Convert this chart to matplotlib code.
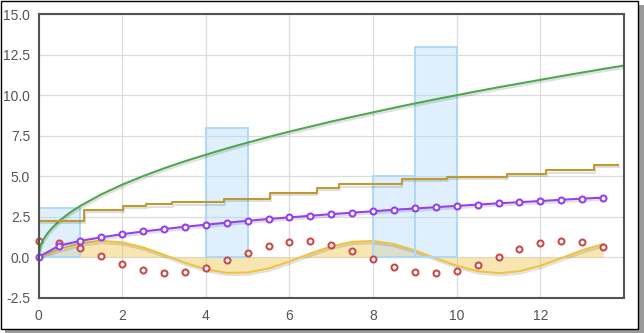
""" flot style series types chart """

import numpy as np
import matplotlib
matplotlib.use("Agg")
import matplotlib.pyplot as plt
import matplotlib.patheffects as pe
from matplotlib.patches import Rectangle

# --- data ---
half_steps = np.arange(0, 14, 0.5)  # 0, 0.5, ... 13.5

sin_vals = [0.0, 0.48, 0.84, 1.0, 0.91, 0.60, 0.14, -0.35, -0.76, -0.98,
            -0.96, -0.71, -0.28, 0.22, 0.66, 0.94, 0.99, 0.80, 0.41, -0.08,
            -0.54, -0.88, -1.0, -0.88, -0.54, -0.07, 0.42, 0.80]

bar_x = [0, 4, 8, 9]
bar_h = [3, 8, 5, 13]

cos_vals = [1.0, 0.88, 0.54, 0.07, -0.42, -0.80, -0.99, -0.94, -0.65, -0.21,
            0.28, 0.71, 0.96, 0.98, 0.75, 0.35, -0.15, -0.60, -0.91, -1.0,
            -0.84, -0.48, 0.0, 0.48, 0.84, 1.0, 0.91, 0.60]

green_x = [0, 0.05, 0.1, 0.2, 0.3, 0.5, 0.75, 1, 1.5, 2, 2.5, 3, 3.5, 4,
           4.5, 5, 5.5, 6, 6.5, 7, 7.5, 8, 8.5, 9, 9.5, 10, 10.5, 11, 11.5,
           12, 12.5, 13, 13.5, 14]
green_y = [0, 0.71, 1.0, 1.41, 1.73, 2.24, 2.74, 3.16, 3.87, 4.47, 5.0, 5.48,
           5.92, 6.32, 6.71, 7.07, 7.42, 7.75, 8.06, 8.37, 8.66, 8.94, 9.22,
           9.49, 9.75, 10.0, 10.25, 10.49, 10.72, 10.95, 11.18, 11.4, 11.62,
           11.83]

purple_vals = [0, 0.71, 1.0, 1.22, 1.41, 1.58, 1.73, 1.87, 2.0, 2.12, 2.24,
               2.35, 2.45, 2.55, 2.65, 2.74, 2.83, 2.92, 3.0, 3.08, 3.16,
               3.24, 3.32, 3.39, 3.46, 3.54, 3.61, 3.67]

step_x = [0, 1.08, 2.02, 2.57, 3.19, 4.44, 5.54, 6.65, 7.19, 8.68, 9.76,
          11.2, 12.13, 13.29, 13.86]
step_y = [2.24, 2.89, 3.14, 3.26, 3.38, 3.6, 3.96, 4.26, 4.49, 4.83, 4.94,
          5.15, 5.36, 5.69, 5.69]

x_ticks = [0, 2, 4, 6, 8, 10, 12]
y_ticks = [-2.5, 0.0, 2.5, 5.0, 7.5, 10.0, 12.5, 15.0]

# flot default palette
YELLOW = "#edc240"
BLUE = "#afd8f8"
RED = "#cb4b4b"
GREEN = "#4da74d"
PURPLE = "#9440ed"
BROWN = "#bd9b33"
TEXT = "#545454"

W, H = 644, 333
plt.rcParams["font.family"] = ["Liberation Sans", "DejaVu Sans"]

fig = plt.figure(figsize=(W / 100, H / 100), dpi=100)
fig.patch.set_facecolor("white")

# screenshot frame with drop shadow
fig.add_artist(Rectangle((5 / W, 0), 639 / W, 4 / H, transform=fig.transFigure,
                         facecolor="#9a9a9a", edgecolor="none", zorder=-3))
fig.add_artist(Rectangle((638 / W, 0), 6 / W, 328 / H, transform=fig.transFigure,
                         facecolor="#9a9a9a", edgecolor="none", zorder=-3))
fig.add_artist(Rectangle((0.5 / W, 4 / H), 637.5 / W, 328.5 / H,
                         transform=fig.transFigure, facecolor="white",
                         edgecolor="black", linewidth=1.0, zorder=-2))

ax = fig.add_axes([38.5 / W, 1 - 297.5 / H, (624 - 38.5) / W, (297.5 - 14.3) / H])
ax.set_facecolor("white")

shadow = [pe.SimpleLineShadow(offset=(0.6, -1.6), alpha=0.12, shadow_color="k"),
          pe.Normal()]

# yellow filled sine
ax.fill_between(half_steps, sin_vals, 0, color=YELLOW, alpha=0.4,
                linewidth=0, zorder=2)
ax.plot(half_steps, sin_vals, color=YELLOW, lw=1.5, zorder=3,
        path_effects=shadow)

# bars
ax.bar(bar_x, bar_h, width=1, align="edge", color=BLUE, alpha=0.4,
       linewidth=0, zorder=2)
ax.bar(bar_x, bar_h, width=1, align="edge", facecolor="none",
       edgecolor=BLUE, linewidth=1.4, zorder=3)

# cosine points
ax.plot(half_steps, cos_vals, linestyle="none", marker="o", ms=4.3,
        mfc="white", mec=RED, mew=1.5, zorder=4, clip_on=False)

# sqrt curve
ax.plot(green_x, green_y, color=GREEN, lw=1.5, zorder=5, path_effects=shadow)

# purple line with points
ax.plot(half_steps, purple_vals, color=PURPLE, lw=1.5, zorder=6,
        path_effects=shadow)
ax.plot(half_steps, purple_vals, linestyle="none", marker="o", ms=4.3,
        mfc="white", mec=PURPLE, mew=1.5, zorder=7, clip_on=False)

# steps
ax.plot(step_x, step_y, drawstyle="steps-post", color=BROWN, lw=1.5,
        zorder=8, path_effects=shadow)

ax.set_xlim(0, 14)
ax.set_ylim(-2.5, 15)
ax.set_xticks(x_ticks)
ax.set_yticks(y_ticks)
ax.set_yticklabels([f"{v:.1f}" for v in y_ticks])
ax.grid(True, color="#dcdcdc", linewidth=0.9, zorder=0)
ax.set_axisbelow(True)
ax.tick_params(length=0, labelsize=10, colors=TEXT)
ax.tick_params(axis="x", pad=8)
ax.tick_params(axis="y", pad=6)
for s in ax.spines.values():
    s.set_color(TEXT)
    s.set_linewidth(1.5)
    s.set_zorder(10)

fig.savefig("out.png", dpi=100)
